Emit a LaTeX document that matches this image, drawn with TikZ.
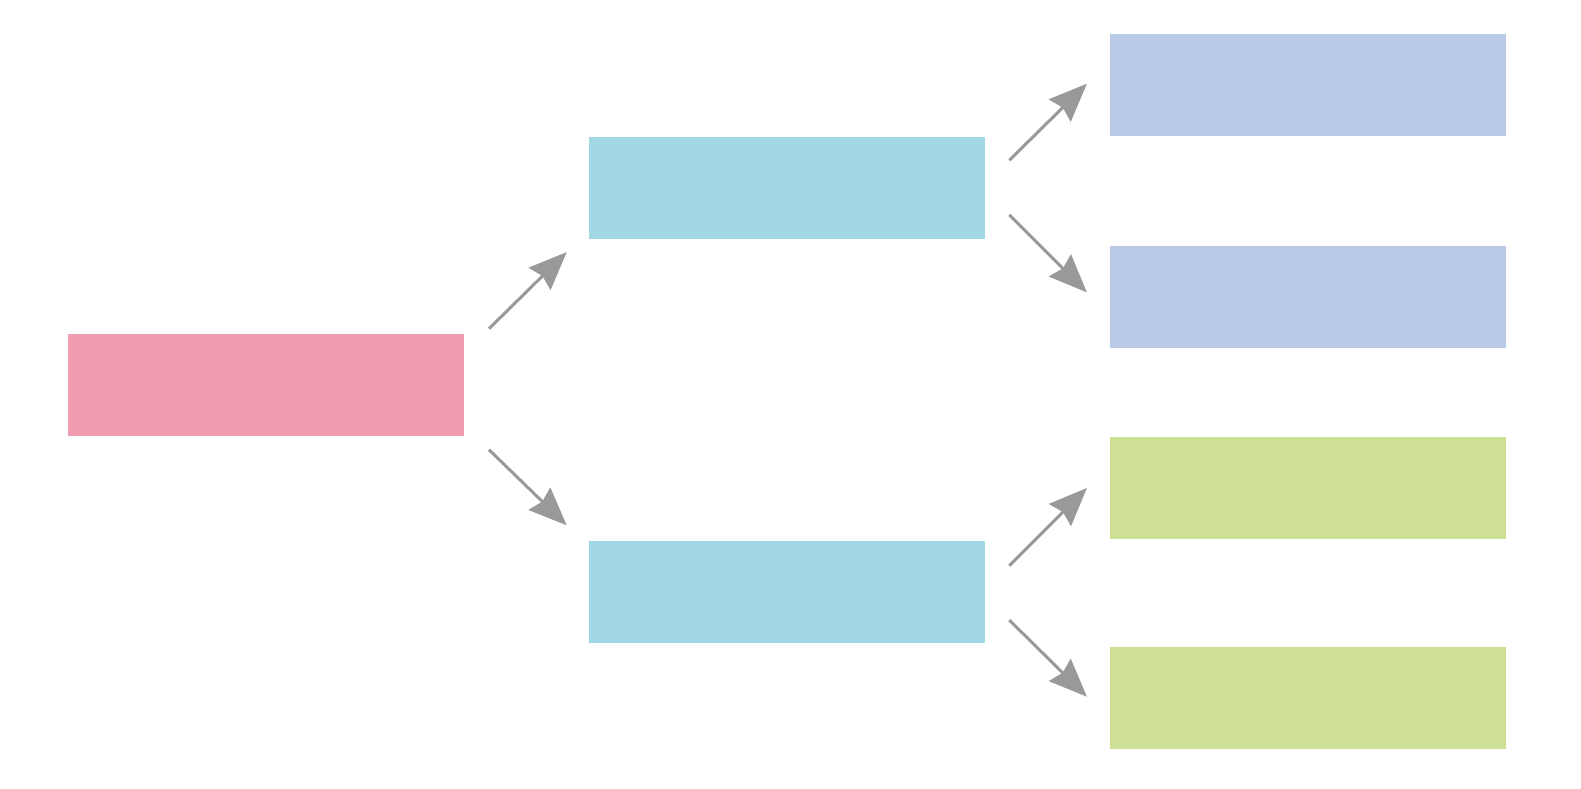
\documentclass[tikz,border=0pt]{standalone}
\usetikzlibrary{arrows.meta}
\definecolor{rootc}{HTML}{F09DB1}
\definecolor{midc}{HTML}{A2D8E5}
\definecolor{bluec}{HTML}{BACBE8}
\definecolor{greenc}{HTML}{CDE096}
\definecolor{arrc}{HTML}{999999}
\tikzset{
  box/.style={rectangle, draw=none, inner sep=0pt, minimum width=396pt, minimum height=102pt},
  conn/.style={draw=arrc, line width=3pt, -{Stealth[length=38pt, width=31pt, inset=4pt]}}
}
\begin{document}
\begin{tikzpicture}[x=1pt,y=-1pt]
\useasboundingbox (0,0) rectangle (1581,789);
\node[box, fill=rootc] (root) at (265.7,385.2) {};
\node[box, fill=midc] (m1) at (787,187.5) {};
\node[box, fill=midc] (m2) at (787,592.3) {};
\node[box, fill=bluec] (b1) at (1308.2,85.2) {};
\node[box, fill=bluec] (b2) at (1308.2,296.5) {};
\node[box, fill=greenc] (g1) at (1308.2,487.5) {};
\node[box, fill=greenc] (g2) at (1308.2,698.2) {};
\coordinate (s1) at (489,328.7);  \coordinate (e1) at (566.7,252.1);
\coordinate (s2) at (489,449.7);  \coordinate (e2) at (566.7,525.3);
\coordinate (s3) at (1009.3,160.3); \coordinate (e3) at (1086.9,83.7);
\coordinate (s4) at (1009.3,214.8); \coordinate (e4) at (1086.9,292.4);
\coordinate (s5) at (1009.3,565.7); \coordinate (e5) at (1086.9,488);
\coordinate (s6) at (1009.3,620.1); \coordinate (e6) at (1086.9,696.7);
\draw[conn] (s1) -- (e1);
\draw[conn] (s2) -- (e2);
\draw[conn] (s3) -- (e3);
\draw[conn] (s4) -- (e4);
\draw[conn] (s5) -- (e5);
\draw[conn] (s6) -- (e6);
\end{tikzpicture}
\end{document}
